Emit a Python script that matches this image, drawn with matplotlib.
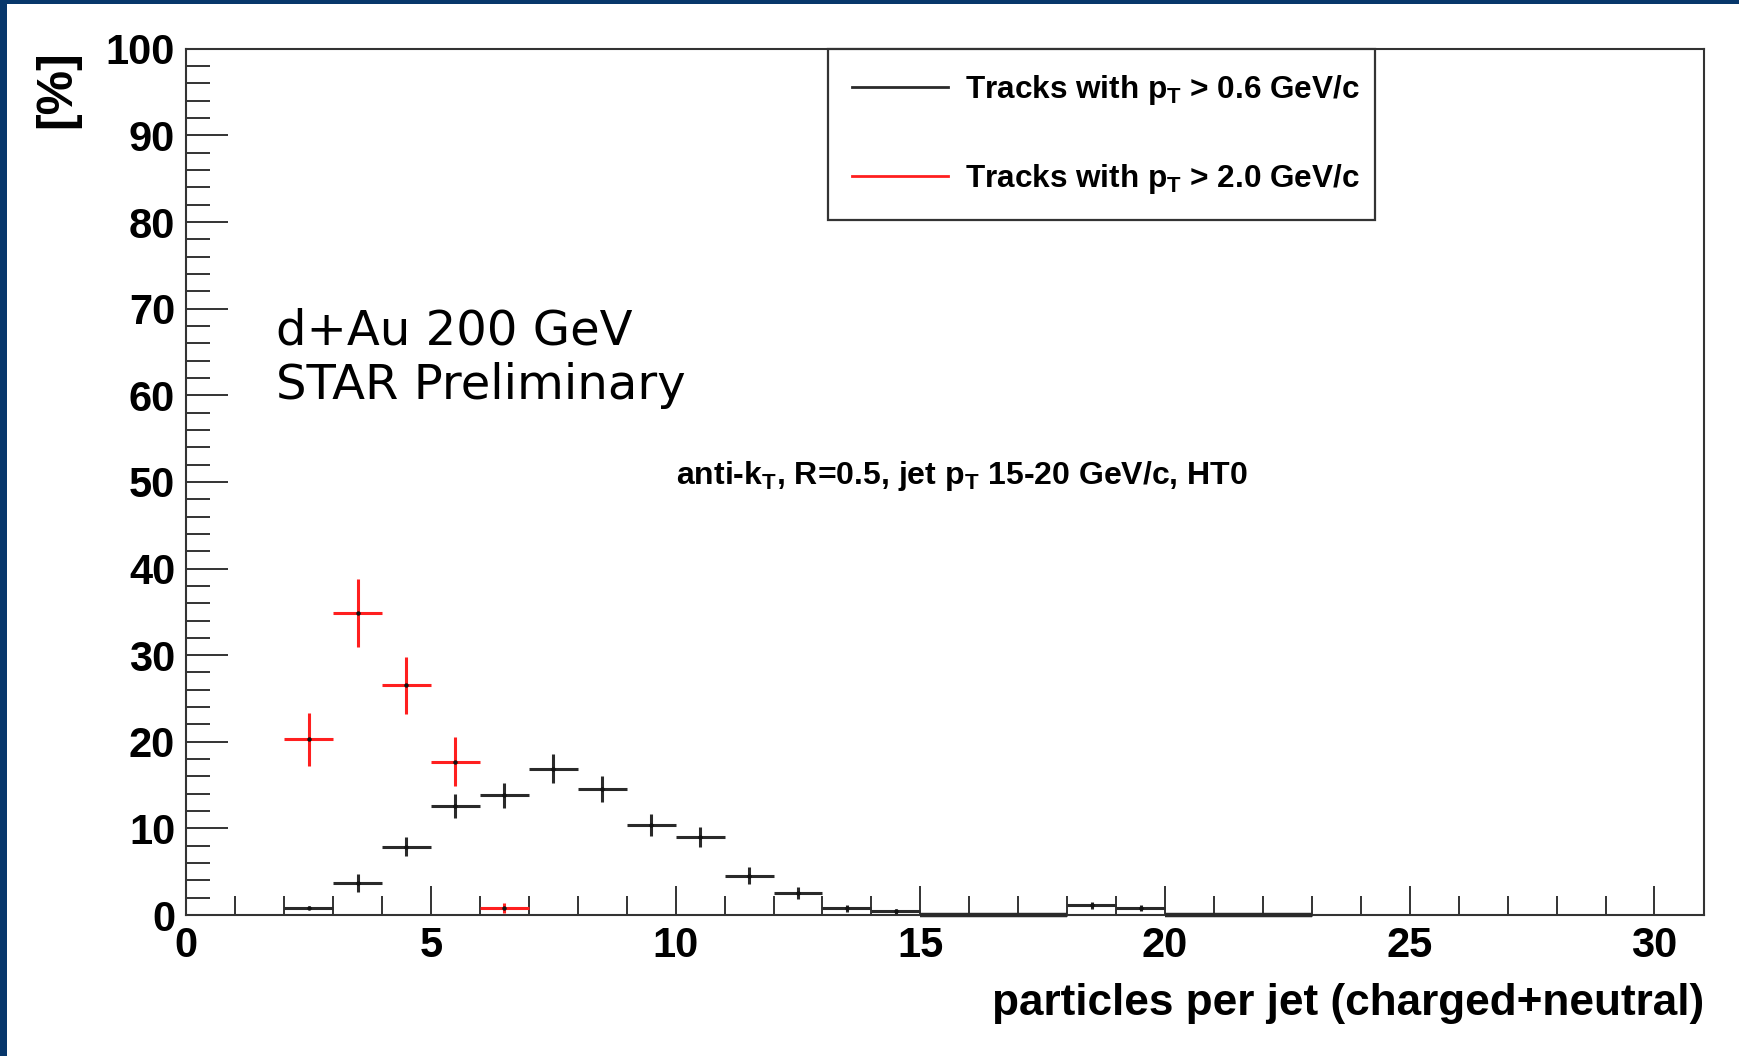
import numpy as np
import matplotlib
matplotlib.use("Agg")
import matplotlib.pyplot as plt
from matplotlib.lines import Line2D
from matplotlib.patches import Rectangle

plt.rcParams['font.family'] = ['Liberation Sans', 'DejaVu Sans']
plt.rcParams['font.weight'] = 'bold'
plt.rcParams['mathtext.fontset'] = 'custom'
plt.rcParams['mathtext.rm'] = 'Liberation Sans:bold'
plt.rcParams['mathtext.bf'] = 'Liberation Sans:bold'
plt.rcParams['mathtext.it'] = 'Liberation Sans:bold'

# Multiplicity histogram, tracks with pT > 0.6 GeV/c (unit-width bins)
black_edges = [2, 3, 4, 5, 6, 7, 8, 9, 10, 11, 12, 13, 14, 15, 16, 17, 18, 19, 20, 21, 22, 23]
black_vals = [0.85, 3.7, 7.9, 12.6, 13.8, 16.9, 14.6, 10.4, 9.0, 4.55, 2.55,
              0.8, 0.45, 0.0, 0.0, 0.0, 1.1, 0.85, 0.0, 0.0, 0.0]
black_errs = [0.2, 1.0, 1.1, 1.4, 1.4, 1.65, 1.5, 1.25, 1.15, 1.0, 0.7,
              0.4, 0.3, 0.0, 0.0, 0.0, 0.4, 0.35, 0.0, 0.0, 0.0]

# Multiplicity histogram, tracks with pT > 2.0 GeV/c
red_edges = [2, 3, 4, 5, 6, 7]
red_vals = [20.3, 34.9, 26.5, 17.7, 0.8]
red_errs = [3.05, 3.93, 3.33, 2.8, 0.6]

x_ticks = [0, 5, 10, 15, 20, 25, 30]
y_ticks = [0, 10, 20, 30, 40, 50, 60, 70, 80, 90, 100]

labels = [r'Tracks with p$_{\mathrm{T}}$ > 0.6 GeV/c',
          r'Tracks with p$_{\mathrm{T}}$ > 2.0 GeV/c']
annotation = r'anti-k$_{\mathrm{T}}$, R=0.5, jet p$_{\mathrm{T}}$ 15-20 GeV/c, HT0'

BLACK = '#2a2a2a'
RED = '#ff1f1f'
FRAME = '#333333'

fig = plt.figure(figsize=(17.39, 10.56), dpi=100)
fig.patch.set_facecolor('white')

# slide border strips (left and top)
fig.patches.append(Rectangle((0, 0), 0.0042, 1, transform=fig.transFigure,
                             facecolor='#07376b', edgecolor='none', zorder=0))
fig.patches.append(Rectangle((0, 0.9962), 1, 0.0038, transform=fig.transFigure,
                             facecolor='#07376b', edgecolor='none', zorder=0))

ax = fig.add_axes([0.1071, 0.1335, 0.873, 0.8203])


def draw_hist(edges, vals, errs, color):
    edges = np.asarray(edges, dtype=float)
    vals = np.asarray(vals, dtype=float)
    centers = 0.5 * (edges[:-1] + edges[1:])
    half = 0.5 * np.diff(edges)
    ax.errorbar(centers, vals, xerr=half, yerr=errs, fmt='none',
                ecolor=color, elinewidth=2.2, capsize=0, clip_on=False, zorder=3)
    # empty bins sit on the axis line and read as a heavier stroke
    empty = vals == 0
    if empty.any():
        ax.hlines(vals[empty], edges[:-1][empty], edges[1:][empty], colors=color,
                  linewidth=3.2, clip_on=False, zorder=3)
    ax.plot(centers[~empty], vals[~empty], ls='none', marker='o', ms=2.2,
            color='#111111', clip_on=False, zorder=4)


draw_hist(black_edges, black_vals, black_errs, BLACK)
draw_hist(red_edges, red_vals, red_errs, RED)

ax.set_xlim(0, 31.02)
ax.set_ylim(0, 100)
ax.set_xticks(x_ticks)
ax.set_yticks(y_ticks)
ax.set_xticks(np.arange(0, 31, 1), minor=True)
ax.set_yticks(np.arange(0, 101, 2), minor=True)

ax.tick_params(axis='x', which='major', direction='in', length=21, width=1.4,
               color=FRAME, labelsize=30, pad=8, top=False)
ax.tick_params(axis='x', which='minor', direction='in', length=13.5, width=1.4,
               color=FRAME, top=False)
ax.tick_params(axis='y', which='major', direction='in', length=30, width=1.4,
               color=FRAME, labelsize=30, pad=8, right=False)
ax.tick_params(axis='y', which='minor', direction='in', length=17, width=1.4,
               color=FRAME, right=False)
for lab in ax.get_xticklabels() + ax.get_yticklabels():
    lab.set_fontweight('bold')

for sp in ax.spines.values():
    sp.set_linewidth(1.5)
    sp.set_color(FRAME)

ax.set_xlabel('particles per jet (charged+neutral)', fontsize=31.8, fontweight='bold')
ax.xaxis.set_label_coords(1.0, -0.1024)
ax.xaxis.label.set_ha('right')
ax.xaxis.label.set_va('center')

ax.set_ylabel('[%]', fontsize=36, fontweight='bold')
ax.yaxis.set_label_coords(-0.0852, 0.953)
ax.yaxis.label.set_ha('center')
ax.yaxis.label.set_va('center')

handles = [Line2D([], [], color=BLACK, lw=2.0), Line2D([], [], color=RED, lw=2.0)]
leg = ax.legend(handles, labels, loc='upper left',
                bbox_to_anchor=(0.4226, 0.80, 0.3604, 0.20), mode='expand',
                prop={'size': 22.7, 'weight': 'bold'}, frameon=True, fancybox=False,
                borderpad=0.76, labelspacing=1.76, handlelength=3.05,
                handletextpad=0.55, borderaxespad=0.0)
leg.get_frame().set_edgecolor(FRAME)
leg.get_frame().set_linewidth(1.6)
leg.get_frame().set_alpha(1)

ax.text(0.0591, 0.6742, 'd+Au 200 GeV', transform=ax.transAxes, fontsize=34.7,
        family='DejaVu Sans', fontweight='normal', ha='left', va='center')
ax.text(0.0591, 0.6108, 'STAR Preliminary', transform=ax.transAxes, fontsize=34.7,
        family='DejaVu Sans', fontweight='normal', ha='left', va='center')

ax.text(0.3229, 0.498, annotation, transform=ax.transAxes, fontsize=23,
        fontweight='bold', ha='left', va='baseline')

fig.savefig('out.png', dpi=100)
